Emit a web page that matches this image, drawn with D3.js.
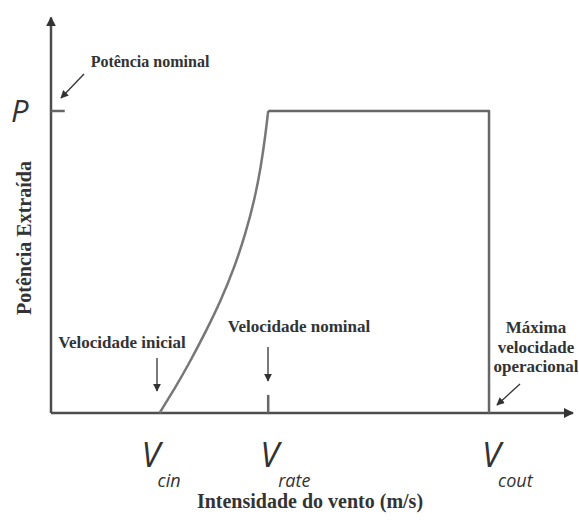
<!DOCTYPE html>
<html>
<head>
<meta charset="utf-8">
<script src="https://cdn.jsdelivr.net/npm/d3@7"></script>
<style>
  body { margin: 0; background: #fff; }
  svg { display: block; }
  .serif { font-family: "Liberation Serif", "Times New Roman", serif; font-weight: bold; fill: #333; }
  .sans { font-family: "Open Sans", sans-serif; font-style: italic; fill: #333; }
</style>
</head>
<body>
<svg id="chart" width="579" height="521"></svg>
<script>
// wind speed (relative units) and extracted power (fraction of nominal P)
const riseSpeed = [3, 3.44, 3.76, 4.26, 4.70, 5.07, 5.38, 5.62, 5.80, 5.93, 6];
const risePower = [0, 0.086, 0.152, 0.265, 0.374, 0.483, 0.596, 0.705, 0.815, 0.927, 1];
const plateauSpeed = [6, 12.1, 12.1];
const plateauPower = [1, 1, 0];

const speedMarks = [3, 6, 12.1];
const speedSubs = ['cin', 'rate', 'cout'];

const xTitle = 'Intensidade do vento (m/s)';
const yTitle = 'Potência Extraída';

const svg = d3.select('#chart');

const x = d3.scaleLinear().domain([0, 14.42]).range([51, 573]);
const y = d3.scaleLinear().domain([0, 1]).range([413, 111]);
const yTop = 1.31;

const defs = svg.append('defs');
defs.append('marker')
    .attr('id', 'axisHead')
    .attr('viewBox', '0 0 10 10')
    .attr('refX', 9).attr('refY', 5)
    .attr('markerWidth', 4).attr('markerHeight', 4)
    .attr('orient', 'auto')
    .append('path').attr('d', 'M0,0L10,5L0,10Z').attr('fill', '#333');
defs.append('marker')
    .attr('id', 'noteHead')
    .attr('viewBox', '0 0 10 10')
    .attr('refX', 9).attr('refY', 5)
    .attr('markerWidth', 8).attr('markerHeight', 8)
    .attr('markerUnits', 'userSpaceOnUse')
    .attr('orient', 'auto')
    .append('path').attr('d', 'M0,0L10,5L0,10Z').attr('fill', '#333');

// axes
svg.append('line')
    .attr('x1', x(0)).attr('y1', y(0)).attr('x2', x(0)).attr('y2', y(yTop))
    .attr('stroke', '#4d4d4d').attr('stroke-width', 2.5)
    .attr('marker-end', 'url(#axisHead)');
svg.append('line')
    .attr('x1', x(0)).attr('y1', y(0)).attr('x2', x(14.42)).attr('y2', y(0))
    .attr('stroke', '#4d4d4d').attr('stroke-width', 2.5)
    .attr('marker-end', 'url(#axisHead)');

// P tick and Vrate tick
svg.append('line')
    .attr('x1', x(0)).attr('x2', x(0.38)).attr('y1', y(1)).attr('y2', y(1))
    .attr('stroke', '#666').attr('stroke-width', 2.5);
svg.append('line')
    .attr('x1', x(6)).attr('x2', x(6)).attr('y1', y(0)).attr('y2', y(0.06))
    .attr('stroke', '#666').attr('stroke-width', 2.5);

// power curve
const rise = d3.line()
    .x((d, i) => x(riseSpeed[i]))
    .y((d, i) => y(risePower[i]))
    .curve(d3.curveBasis);
const plateau = d3.line()
    .x((d, i) => x(plateauSpeed[i]))
    .y((d, i) => y(plateauPower[i]));

svg.append('path')
    .attr('d', rise(riseSpeed))
    .attr('fill', 'none').attr('stroke', '#777').attr('stroke-width', 2.5);
svg.append('path')
    .attr('d', plateau(plateauSpeed))
    .attr('fill', 'none').attr('stroke', '#666').attr('stroke-width', 2.5)
    .attr('stroke-linejoin', 'round');

// P label
svg.append('text').attr('class', 'sans')
    .attr('x', 11).attr('y', 122)
    .attr('font-size', 31)
    .text('P');

// V labels
const vShift = [-18, -8, -7];
const subShift = [-2, 10, 9];
speedMarks.forEach((s, i) => {
    const g = svg.append('text').attr('class', 'sans');
    g.append('tspan')
        .attr('x', x(s) + vShift[i]).attr('y', 467)
        .attr('font-size', 34)
        .text('V');
    g.append('tspan')
        .attr('x', x(s) + subShift[i]).attr('y', 487)
        .attr('font-size', 18)
        .text(speedSubs[i]);
});

// axis titles
svg.append('text').attr('class', 'serif')
    .attr('x', 310).attr('y', 508)
    .attr('text-anchor', 'middle')
    .attr('font-size', 20)
    .text(xTitle);
svg.append('text').attr('class', 'serif')
    .attr('transform', 'translate(31,238) rotate(-90)')
    .attr('text-anchor', 'middle')
    .attr('font-size', 20)
    .text(yTitle);

// annotations
const notes = [
    { lines: ['Potência nominal'], size: 16, x: 150, y: 67, from: [84, 74], to: [61, 98] },
    { lines: ['Velocidade inicial'], size: 17, x: 122, y: 348, from: [157, 358], to: [157, 391] },
    { lines: ['Velocidade nominal'], size: 17, x: 299, y: 332, from: [268, 347], to: [268, 381] },
    { lines: ['Máxima', 'velocidade', 'operacional'], size: 17, x: 536, y: 333, from: [520, 384], to: [497, 405] }
];

notes.forEach(n => {
    const t = svg.append('text').attr('class', 'serif')
        .attr('text-anchor', 'middle')
        .attr('font-size', n.size);
    n.lines.forEach((l, i) => {
        t.append('tspan').attr('x', n.x).attr('y', n.y + i * 19.5).text(l);
    });
    svg.append('line')
        .attr('x1', n.from[0]).attr('y1', n.from[1])
        .attr('x2', n.to[0]).attr('y2', n.to[1])
        .attr('stroke', '#333').attr('stroke-width', 1.3)
        .attr('marker-end', 'url(#noteHead)');
});
</script>
</body>
</html>
